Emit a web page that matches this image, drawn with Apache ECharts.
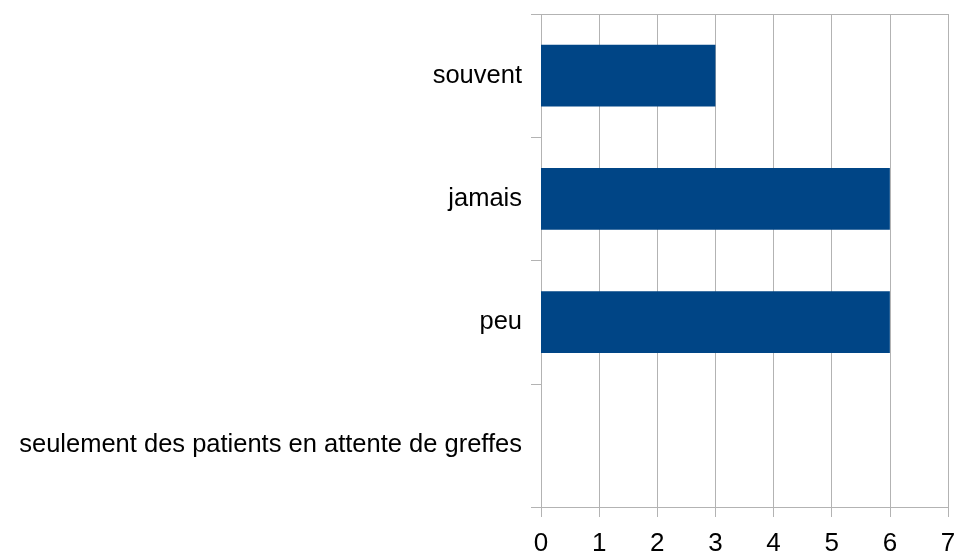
<!DOCTYPE html>
<html><head><meta charset="utf-8">
<script src="https://cdn.jsdelivr.net/npm/echarts@6/dist/echarts.min.js"></script>
<style>html,body{margin:0;padding:0;background:#fff}#c{width:956px;height:553px}</style>
</head><body><div id="c"></div>
<script>
const categories = ["seulement des patients en attente de greffes", "peu", "jamais", "souvent"];
const values = [0, 6, 6, 3];
const xTicks = [0, 1, 2, 3, 4, 5, 6, 7];

const chart = echarts.init(document.getElementById('c'), null, {renderer: 'canvas'});
const grey = '#b3b3b3';
chart.setOption({
  animation: false,
  grid: {left: 541, right: 8, top: 14, bottom: 46, containLabel: false, outerBoundsMode: 'none'},
  xAxis: [{
    type: 'value', min: xTicks[0], max: xTicks[xTicks.length - 1], interval: 1,
    axisLine: {show: true, lineStyle: {color: grey, width: 1}},
    axisTick: {show: true, length: 10, lineStyle: {color: grey}},
    splitLine: {show: true, lineStyle: {color: grey, width: 1}},
    axisLabel: {color: '#000', fontSize: 26, fontFamily: 'Liberation Sans', margin: 24}
  }, {
    type: 'value', position: 'top', min: 0, max: 7,
    axisLine: {show: true, lineStyle: {color: grey, width: 1}},
    axisTick: {show: false}, axisLabel: {show: false}, splitLine: {show: false}
  }],
  yAxis: {
    type: 'category', data: categories,
    axisLine: {show: false},
    axisTick: {show: true, length: 10, lineStyle: {color: grey}},
    axisLabel: {color: '#000', fontSize: 25.5, fontFamily: 'Liberation Sans', margin: 19}
  },
  series: [{
    type: 'bar', data: values, barWidth: '50%',
    itemStyle: {color: '#004586'}
  }]
});
</script></body></html>
